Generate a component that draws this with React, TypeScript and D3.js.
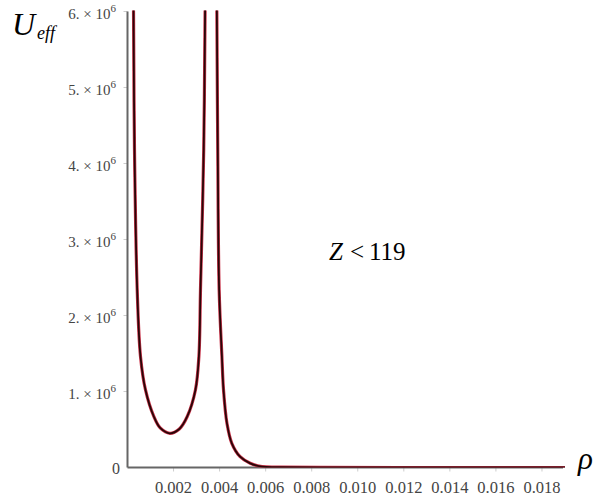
import { useEffect, useRef } from "react";
import * as d3 from "d3";

// values (rho, U_eff)
const wellRho = [0.000226, 0.000261, 0.000304, 0.000421, 0.000565, 0.000782, 0.001147, 0.00142, 0.00184, 0.00225, 0.00259, 0.00295, 0.0031, 0.00317, 0.00331, 0.00337, 0.0034];
const wellU = [6.94e6, 6.02e6, 4.18e6, 2.34e6, 1.46e6, 1.02e6, 0.668e6, 0.52e6, 0.45e6, 0.507e6, 0.668e6, 1.02e6, 1.46e6, 2.34e6, 4.18e6, 6.02e6, 6.94e6];

const tailRho = [0.00386, 0.00388, 0.00392, 0.00398, 0.0041, 0.00417, 0.00432, 0.00453, 0.00489, 0.00533, 0.00584, 0.00663, 0.0084, 0.0118, 0.019];
const tailU = [6.94e6, 6.02e6, 4.18e6, 2.34e6, 1.46e6, 1.02e6, 0.58e6, 0.318e6, 0.142e6, 0.055e6, 0.0105e6, 0.004e6, 0.001e6, 0.0003e6, 0.0001e6];

const xTicks = [0.002, 0.004, 0.006, 0.008, 0.01, 0.012, 0.014, 0.016, 0.018];
const yTicks = [1, 2, 3, 4, 5, 6];

const SERIF = "\"Liberation Serif\", \"DejaVu Serif\", \"Times New Roman\", Times, serif";

const App = () => {
  const svgRef = useRef<SVGSVGElement>(null);

  useEffect(() => {
    if (!svgRef.current) return;
    const svg = d3.select(svgRef.current);
    svg.selectAll("*").remove();

    const x = d3.scaleLinear().domain([0, 0.019]).range([127.5, 565]);
    const y = d3.scaleLinear().domain([0, 6e6]).range([467.5, 11.5]);

    svg
      .append("clipPath")
      .attr("id", "plot-clip")
      .append("rect")
      .attr("x", x(0))
      .attr("y", y(6e6) - 1)
      .attr("width", x(0.019) - x(0))
      .attr("height", y(0) - y(6e6) + 1);

    // faint ticks
    svg
      .append("g")
      .selectAll("line")
      .data(xTicks)
      .join("line")
      .attr("x1", (d) => x(d))
      .attr("x2", (d) => x(d))
      .attr("y1", y(0))
      .attr("y2", y(0) + 4)
      .attr("stroke", "#ccc");

    svg
      .append("g")
      .selectAll("line")
      .data(yTicks)
      .join("line")
      .attr("x1", x(0) - 4)
      .attr("x2", x(0))
      .attr("y1", (d) => y(d * 1e6))
      .attr("y2", (d) => y(d * 1e6))
      .attr("stroke", "#ccc");

    // axes
    svg
      .append("line")
      .attr("x1", x(0))
      .attr("x2", x(0))
      .attr("y1", y(0))
      .attr("y2", y(6e6))
      .attr("stroke", "#666")
      .attr("stroke-width", 2);
    svg
      .append("line")
      .attr("x1", x(0))
      .attr("x2", x(0.019) - 2)
      .attr("y1", y(0))
      .attr("y2", y(0))
      .attr("stroke", "#666")
      .attr("stroke-width", 2);

    // x tick labels
    svg
      .append("g")
      .selectAll("text")
      .data(xTicks)
      .join("text")
      .attr("x", (d) => x(d))
      .attr("y", 493)
      .attr("text-anchor", "middle")
      .style("font-family", SERIF)
      .attr("font-size", 16.5)
      .attr("fill", "#444")
      .text((d) => d3.format(".3f")(d));

    // y tick labels
    const yl = svg
      .append("g")
      .selectAll("text")
      .data(yTicks)
      .join("text")
      .attr("x", 116)
      .attr("y", (d) => y(d * 1e6) + 7)
      .attr("text-anchor", "end")
      .style("font-family", SERIF)
      .attr("font-size", 15)
      .attr("fill", "#444");
    yl.append("tspan").text((d) => `${d}. \u00d7 10`);
    yl.append("tspan").attr("dy", -7).attr("font-size", 11).text("6");

    svg
      .append("text")
      .attr("x", 120)
      .attr("y", y(0) + 6)
      .attr("text-anchor", "end")
      .style("font-family", SERIF)
      .attr("font-size", 16)
      .attr("fill", "#444")
      .text("0");

    // curve
    const line = d3
      .line<[number, number]>()
      .x((d) => x(d[0]))
      .y((d) => y(d[1]))
      .curve(d3.curveCatmullRom.alpha(0.5));

    const series: [number, number][][] = [
      wellRho.map((r, i) => [r, wellU[i]]),
      tailRho.map((r, i) => [r, tailU[i]]),
    ];

    const g = svg.append("g").attr("clip-path", "url(#plot-clip)");
    series.forEach((pts) => {
      g.append("path")
        .attr("d", line(pts))
        .attr("fill", "none")
        .attr("stroke", "#c8344a")
        .attr("stroke-width", 3.2);
      g.append("path")
        .attr("d", line(pts))
        .attr("fill", "none")
        .attr("stroke", "#2a0608")
        .attr("stroke-width", 1.8);
    });

    // labels
    svg
      .append("text")
      .attr("x", 12)
      .attr("y", 35)
      .style("font-family", SERIF)
      .attr("font-style", "italic")
      .attr("font-size", 32)
      .attr("fill", "#000")
      .text("U");
    svg
      .append("text")
      .attr("x", 37)
      .attr("y", 39)
      .style("font-family", SERIF)
      .attr("font-style", "italic")
      .attr("font-size", 18)
      .attr("fill", "#000")
      .text("eff");

    svg
      .append("text")
      .attr("x", 578)
      .attr("y", 469)
      .style("font-family", SERIF)
      .attr("font-style", "italic")
      .attr("font-size", 31)
      .attr("fill", "#000")
      .text("\u03c1");

    const zText = (tx: number, s: string, italic: boolean) =>
      svg
        .append("text")
        .attr("x", tx)
        .attr("y", 260)
        .style("font-family", SERIF)
        .attr("font-style", italic ? "italic" : "normal")
        .attr("font-size", 25)
        .attr("fill", "#000")
        .text(s);
    zText(329, "Z", true);
    zText(350, "<", false);
    zText(369, "119", false);
  }, []);

  return (
    <div style={{ position: "fixed", left: 0, top: 0 }}>
      <svg ref={svgRef} width={609} height={500} style={{ display: "block", background: "#fff" }} />
    </div>
  );
};

export default App;
